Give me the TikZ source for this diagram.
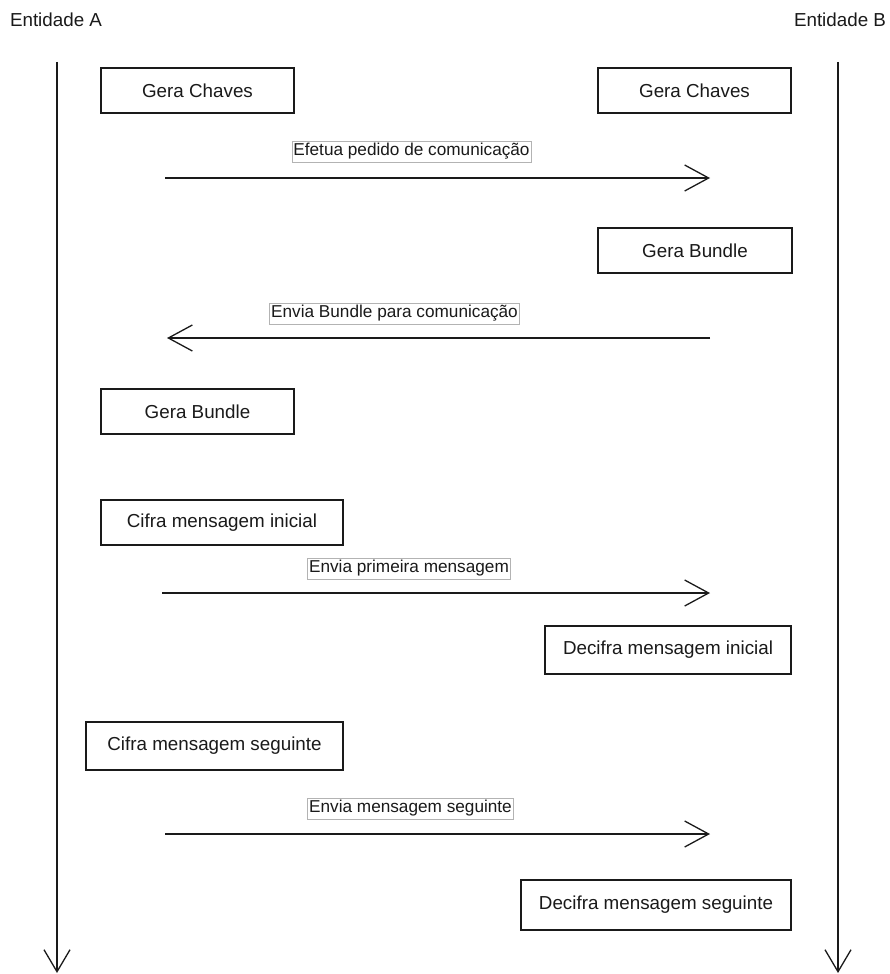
\documentclass[tikz,border=0pt]{standalone}
\usepackage{fontspec}
\setmainfont{Liberation Sans}
\usetikzlibrary{arrows.meta}
\definecolor{ln}{HTML}{1A1A1A}
\definecolor{lblborder}{HTML}{B3B3B3}
\tikzset{
  actbox/.style={draw=ln, line width=1.3pt, fill=white, inner sep=0pt, minimum height=45pt,
    font=\fontsize{18.8}{22}\selectfont, text=ln},
  msglabel/.style={draw=lblborder, line width=0.8pt, fill=white, inner sep=1.5pt, minimum height=21pt,
    font=\fontsize{17.2}{20}\selectfont, text=ln},
  entlabel/.style={inner sep=0pt, font=\fontsize{18.8}{22}\selectfont, text=ln},
  msg/.style={draw=ln, line width=1.3pt, -{Straight Barb[length=24pt, width=26pt, line width=1.3pt]}},
  life/.style={draw=ln, line width=1.3pt, -{Straight Barb[length=22pt, width=26pt, line width=1.3pt]}}
}
\begin{document}
\begin{tikzpicture}[x=1pt, y=-1pt]
\useasboundingbox (0,0) rectangle (889,974);
% entities
\node[entlabel] (entA) at (56,20) {Entidade A};
\node[entlabel] (entB) at (840,20) {Entidade B};
% lifelines
\coordinate (la0) at (57,62);
\coordinate (la1) at (57,973);
\coordinate (lb0) at (838,62);
\coordinate (lb1) at (838,973);
\draw[life] (la0) -- (la1);
\draw[life] (lb0) -- (lb1);
% boxes
\node[actbox, minimum width=193pt] (gcA) at (197.5,90.5) {Gera Chaves};
\node[actbox, minimum width=193pt] (gcB) at (694.5,90.5) {Gera Chaves};
\node[actbox, minimum width=194pt] (gbB) at (695,250.5) {Gera Bundle};
\node[actbox, minimum width=193pt] (gbA) at (197.5,411.5) {Gera Bundle};
\node[actbox, minimum width=242pt] (cmi) at (222,522.5) {Cifra mensagem inicial};
\node[actbox, minimum width=246pt, minimum height=48pt] (dmi) at (668,650) {Decifra mensagem inicial};
\node[actbox, minimum width=257pt, minimum height=48pt] (cms) at (214.5,746) {Cifra mensagem seguinte};
\node[actbox, minimum width=270pt, minimum height=50pt] (dms) at (656,905) {Decifra mensagem seguinte};
% message ends
\coordinate (m1s) at (165,178);
\coordinate (m1e) at (710,178);
\coordinate (m2s) at (710,338);
\coordinate (m2e) at (167,338);
\coordinate (m3s) at (162,593);
\coordinate (m3e) at (710,593);
\coordinate (m4s) at (165,834);
\coordinate (m4e) at (710,834);
\draw[msg] (m1s) -- (m1e);
\draw[msg] (m2s) -- (m2e);
\draw[msg] (m3s) -- (m3e);
\draw[msg] (m4s) -- (m4e);
% labels
\node[msglabel] (l1) at (411.5,151.5) {Efetua pedido de comunicação};
\node[msglabel] (l2) at (394.5,313.5) {Envia Bundle para comunicação};
\node[msglabel] (l3) at (409,568.5) {Envia primeira mensagem};
\node[msglabel] (l4) at (410.5,808.5) {Envia mensagem seguinte};
\end{tikzpicture}
\end{document}
